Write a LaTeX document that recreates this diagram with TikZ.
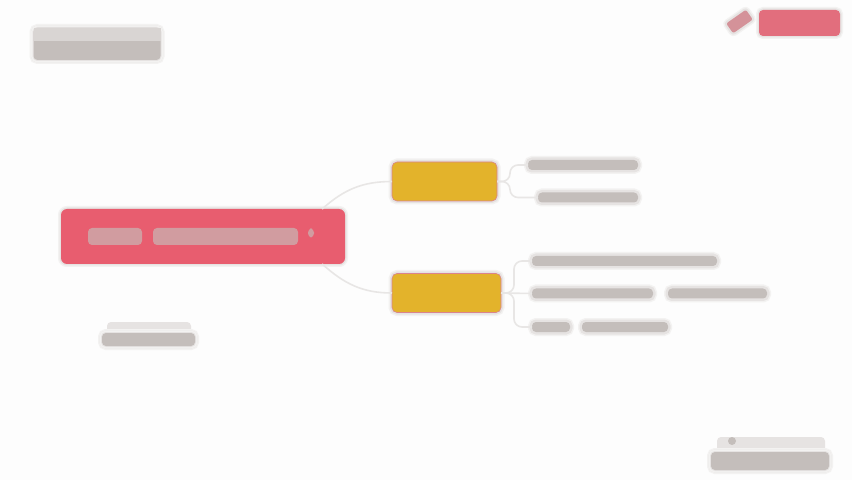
\documentclass[tikz,border=0pt]{standalone}
\usetikzlibrary{positioning}
\definecolor{pagebg}{HTML}{FDFDFD}
\definecolor{rootred}{HTML}{E85D6F}
\definecolor{branchyellow}{HTML}{E3B32B}
\definecolor{bargrey}{HTML}{C4BEBB}
\definecolor{hazegrey}{HTML}{E6E3E2}
\definecolor{softgrey}{HTML}{F3F2F1}
\definecolor{wiregrey}{HTML}{E8E6E5}
\tikzset{
  halo/.style={preaction={draw=softgrey,line width=#1+3pt},preaction={draw=hazegrey,line width=#1}},
  rootnode/.style={rectangle,rounded corners=6pt,fill=rootred,inner sep=0pt,outer sep=0pt,halo=3pt},
  branchnode/.style={rectangle,rounded corners=5pt,fill=branchyellow,draw=rootred!60!bargrey,line width=.6pt,inner sep=0pt,outer sep=0pt,halo=4pt},
  barnode/.style={rectangle,rounded corners=4pt,fill=bargrey,inner sep=0pt,outer sep=0pt,minimum height=10pt,halo=5pt},
  rootbar/.style={rectangle,rounded corners=4pt,fill=rootred!35!bargrey,inner sep=0pt,outer sep=0pt,minimum height=17pt},
  hazenode/.style={rectangle,rounded corners=4pt,fill=hazegrey,inner sep=0pt,outer sep=0pt},
  wire/.style={draw=wiregrey,line width=1.6pt}
}
\begin{document}
\begin{tikzpicture}[x=1pt,y=1pt]
    \fill[pagebg] (0,0) rectangle (852,480);
    \useasboundingbox (0,0) rectangle (852,480);
    % title, top left
    \node[barnode,minimum width=127pt,minimum height=32pt,halo=2pt] (title) at (97,436) {};
    \node[rectangle,fill=bargrey!65!white,inner sep=0pt,minimum width=127pt,minimum height=13pt] (titletop) at (97,445.5) {};
    % button, top right
    \node[rectangle,rounded corners=4pt,fill=rootred!82!bargrey,inner sep=0pt,minimum width=81pt,minimum height=26pt,halo=3pt] (button) at (799.5,457) {};
    \node[rectangle,rounded corners=2pt,fill=rootred!45!bargrey,inner sep=0pt,minimum width=24pt,minimum height=12pt,rotate=35,halo=4pt] (pen) at (739.5,458.5) {};
    % central topic
    \node[rootnode,minimum width=284pt,minimum height=55pt] (root) at (203,243.5) {};
    \node[rootbar,minimum width=54pt] (roota) at (115,243.5) {};
    \node[rootbar,minimum width=145pt] (rootb) at (225.5,243.5) {};
    \node[rootbar,minimum width=6pt,minimum height=9pt] (rootc) at (311,247) {};
    % branches
    \node[branchnode,minimum width=105pt,minimum height=39pt] (upper) at (444.5,298.5) {};
    \node[branchnode,minimum width=109pt,minimum height=39pt] (lower) at (446.5,187) {};
    % leaves
    \node[barnode,minimum width=110pt] (leafa) at (583,315) {};
    \node[barnode,minimum width=100pt] (leafb) at (588,282.5) {};
    \node[barnode,minimum width=185pt] (leafc) at (624.5,219) {};
    \node[barnode,minimum width=121pt] (leafd) at (592.5,186.5) {};
    \node[barnode,minimum width=99pt] (leafe) at (717.5,186.5) {};
    \node[barnode,minimum width=38pt] (leaff) at (551,153) {};
    \node[barnode,minimum width=86pt] (leafg) at (625,153) {};
    % note under the topic
    \node[hazenode,minimum width=84pt,minimum height=12pt] (notetop) at (149,152) {};
    \node[barnode,minimum width=93pt,minimum height=13pt,halo=2pt] (note) at (148.5,140.5) {};
    % footer, bottom right
    \node[hazenode,minimum width=108pt,minimum height=16pt] (foottop) at (771,35) {};
    \node[circle,fill=bargrey,inner sep=0pt,minimum size=8pt] (footdot) at (732,39) {};
    \node[barnode,minimum width=118pt,minimum height=18pt,halo=2pt] (foot) at (770,19) {};
    % connectors
    \draw[wire] (root.13) to[out=42,in=180] (upper.west);
    \draw[wire] (root.-13) to[out=-42,in=180] (lower.west);
    \foreach \from/\to in {upper/leafa,upper/leafb,lower/leafc,lower/leaff}
      \draw[wire,rounded corners=8pt] (\from.east) -- ++(13,0) |- (\to.west);
    \draw[wire] (lower.east) -- (leafd.west);
\end{tikzpicture}
\end{document}
